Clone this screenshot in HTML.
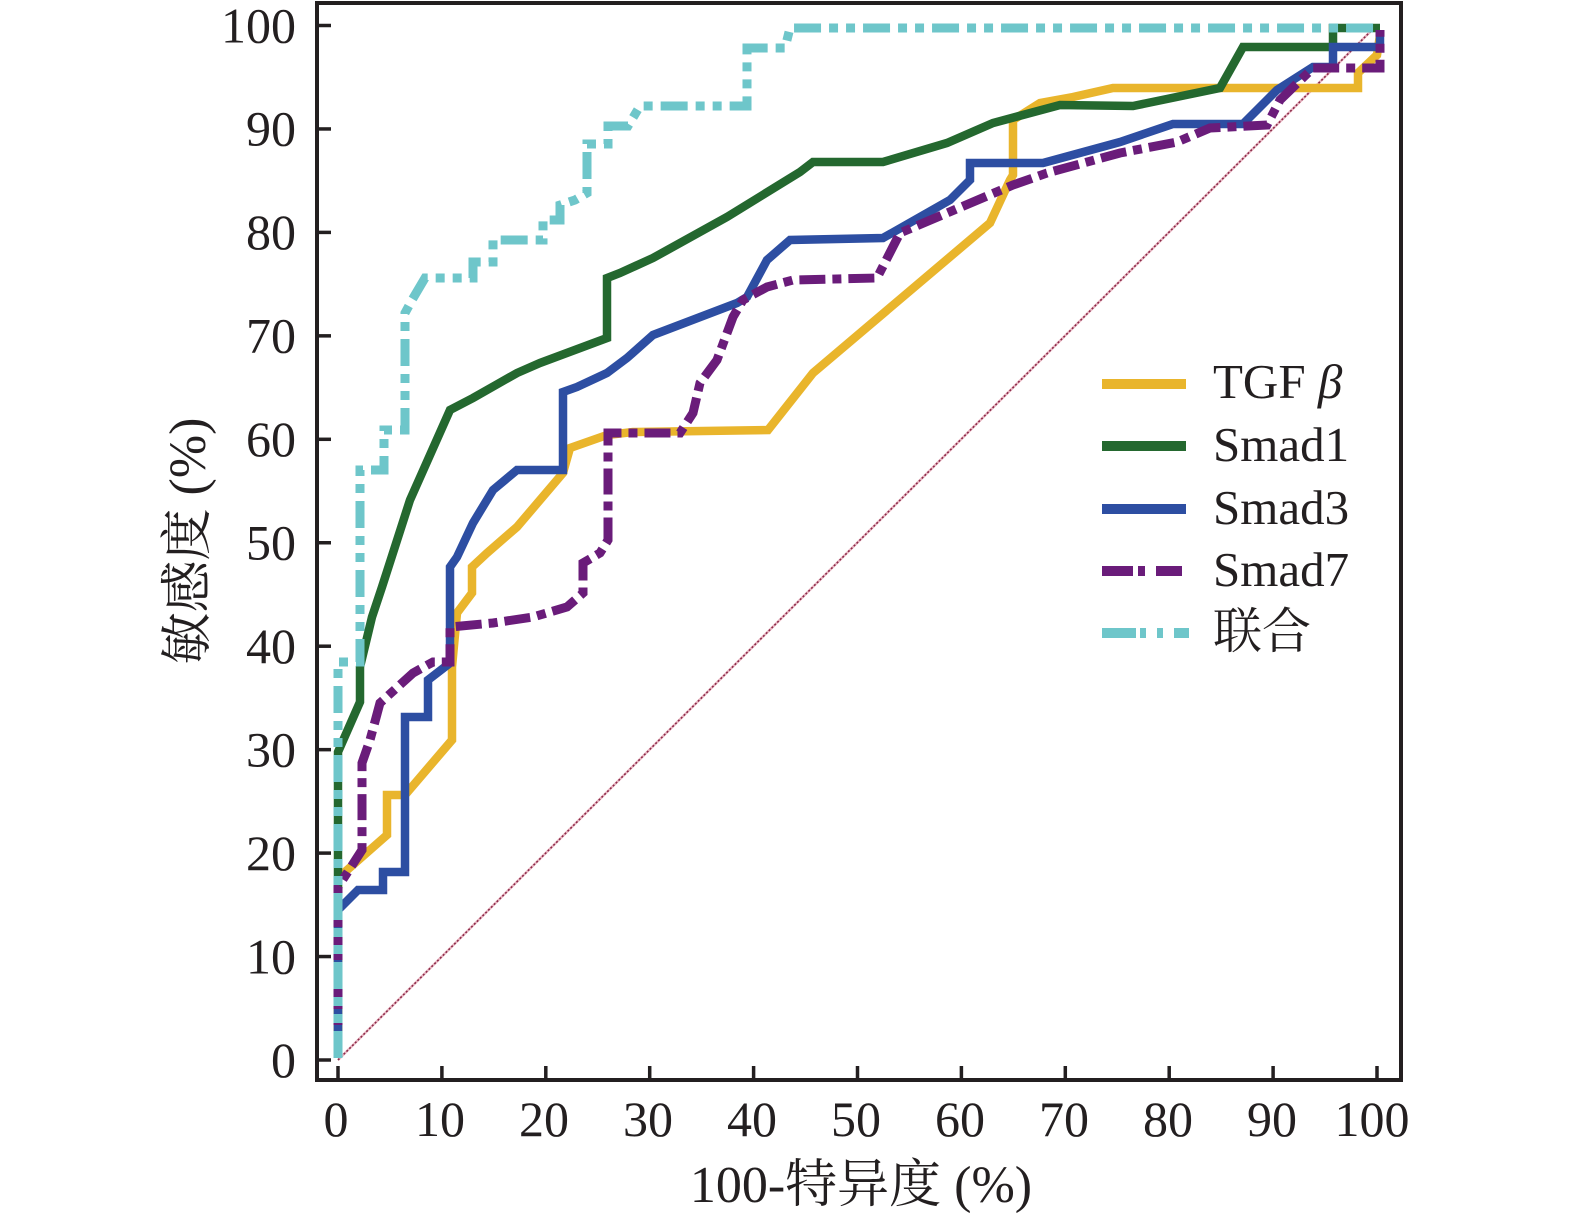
<!DOCTYPE html>
<html>
<head>
<meta charset="utf-8">
<style>
  html,body{margin:0;padding:0;background:#fff;}
  svg{display:block;}
  text{font-family:"Liberation Serif","Noto Serif CJK SC","Noto Sans CJK SC",serif;fill:#231f20;}
</style>
</head>
<body>
<svg width="1575" height="1218" viewBox="0 0 1575 1218" xmlns="http://www.w3.org/2000/svg">
  <rect x="0" y="0" width="1575" height="1218" fill="#fff"/>

  <!-- diagonal reference -->
  <line x1="338" y1="1060" x2="1377" y2="25" stroke="#eab8c4" stroke-width="2.5"/>
  <line x1="338" y1="1060" x2="1377" y2="25" stroke="#8a2a48" stroke-width="1.6" stroke-dasharray="2 2"/>

  <g fill="none" stroke-linejoin="miter" stroke-linecap="butt">
    <!-- TGF beta -->
    <polyline stroke="#E9B52C" stroke-width="8.5" points="338,1058 338,878 387,835 387,795 405,795 452,740 452,667 457,613 472,593 472,567 487,553 517,527 563,473 570,448 607,435 633,432 768,430 813,373 990,223 1010,180 1013,175 1013,120 1040,103 1073,97 1113,88 1358,88 1358,73 1377,55 1380,35"/>
    <!-- Smad1 -->
    <polyline stroke="#24682F" stroke-width="8.5" points="338,1058 338,752 360,702 360,667 372,617 382,587 410,500 450,410 473,398 517,373 540,363 607,338 607,278 620,273 653,258 727,217 800,172 813,162 883,162 947,143 993,123 1060,105 1133,106 1220,88 1243,47 1333,47 1333,28 1380,28"/>
    <!-- Smad3 -->
    <polyline stroke="#2D4EA2" stroke-width="8.5" points="338,1058 338,910 358,890 383,890 383,872 405,872 405,717 428,717 428,680 450,663 450,567 457,557 473,523 493,490 517,470 563,470 563,392 577,387 607,373 627,358 653,335 737,303 747,297 767,260 790,240 883,238 950,200 970,180 970,163 1043,163 1120,142 1173,124 1243,124 1277,90 1313,67 1333,67 1333,47 1380,47 1380,30"/>
    <!-- Smad7 -->
    <polyline stroke="#6A1C7A" stroke-width="9" stroke-dasharray="26 7 9 7" points="338,1058 338,887 362,850 362,763 370,740 380,703 413,673 433,662 450,662 450,627 493,623 533,617 567,607 583,593 583,563 600,553 608,540 608,433 680,433 693,413 700,383 717,360 733,317 743,300 767,287 793,280 877,278 900,233 947,213 1013,185 1047,173 1120,153 1177,142 1210,128 1267,125 1280,100 1313,68 1380,68 1380,30"/>
    <!-- combined -->
    <polyline stroke="#6EC6CA" stroke-width="9" stroke-dasharray="27 8 9 8 9 8" points="338,1058 338,662 360,662 360,470 384,470 384,430 405,430 405,313 412,300 425,278 473,278 473,262 493,262 493,240 543,240 543,220 560,220 560,205 575,200 587,193 587,144 608,144 608,126 628,126 640,106 747,106 747,48 785,48 790,28 1380,28"/>
  </g>

  <!-- frame -->
  <rect x="317" y="3" width="1084" height="1077" fill="none" stroke="#231f20" stroke-width="4"/>

  <!-- y ticks -->
  <g stroke="#231f20" stroke-width="3.5">
    <line x1="317" y1="1060" x2="331" y2="1060"/>
    <line x1="317" y1="956.55" x2="331" y2="956.55"/>
    <line x1="317" y1="853.1" x2="331" y2="853.1"/>
    <line x1="317" y1="749.65" x2="331" y2="749.65"/>
    <line x1="317" y1="646.2" x2="331" y2="646.2"/>
    <line x1="317" y1="542.75" x2="331" y2="542.75"/>
    <line x1="317" y1="439.3" x2="331" y2="439.3"/>
    <line x1="317" y1="335.85" x2="331" y2="335.85"/>
    <line x1="317" y1="232.4" x2="331" y2="232.4"/>
    <line x1="317" y1="128.95" x2="331" y2="128.95"/>
    <line x1="317" y1="25.5" x2="331" y2="25.5"/>
  </g>
  <!-- x ticks -->
  <g stroke="#231f20" stroke-width="3.5">
    <line x1="338" y1="1080" x2="338" y2="1066"/>
    <line x1="441.9" y1="1080" x2="441.9" y2="1066"/>
    <line x1="545.8" y1="1080" x2="545.8" y2="1066"/>
    <line x1="649.7" y1="1080" x2="649.7" y2="1066"/>
    <line x1="753.6" y1="1080" x2="753.6" y2="1066"/>
    <line x1="857.5" y1="1080" x2="857.5" y2="1066"/>
    <line x1="961.4" y1="1080" x2="961.4" y2="1066"/>
    <line x1="1065.3" y1="1080" x2="1065.3" y2="1066"/>
    <line x1="1169.2" y1="1080" x2="1169.2" y2="1066"/>
    <line x1="1273.1" y1="1080" x2="1273.1" y2="1066"/>
    <line x1="1377" y1="1080" x2="1377" y2="1066"/>
  </g>

  <!-- y tick labels -->
  <g font-size="50" text-anchor="end">
    <text x="296" y="1077">0</text>
    <text x="296" y="973.5">10</text>
    <text x="296" y="870">20</text>
    <text x="296" y="766.5">30</text>
    <text x="296" y="663">40</text>
    <text x="296" y="559.5">50</text>
    <text x="296" y="456">60</text>
    <text x="296" y="352.5">70</text>
    <text x="296" y="249">80</text>
    <text x="296" y="145.5">90</text>
    <text x="296" y="42.5">100</text>
  </g>

  <!-- x tick labels -->
  <g font-size="50" text-anchor="middle">
    <text x="336" y="1136">0</text>
    <text x="440" y="1136">10</text>
    <text x="544" y="1136">20</text>
    <text x="648" y="1136">30</text>
    <text x="752" y="1136">40</text>
    <text x="856" y="1136">50</text>
    <text x="960" y="1136">60</text>
    <text x="1064" y="1136">70</text>
    <text x="1168" y="1136">80</text>
    <text x="1272" y="1136">90</text>
    <text x="1372" y="1136">100</text>
  </g>

  <!-- axis titles -->
  <text x="861" y="1202" font-size="52" text-anchor="middle">100-特异度 (%)</text>
  <text transform="translate(205,541) rotate(-90)" x="0" y="0" font-size="52" text-anchor="middle">敏感度 (%)</text>

  <!-- legend -->
  <g fill="none" stroke-linecap="butt">
    <line x1="1102" y1="384" x2="1186" y2="384" stroke="#E9B52C" stroke-width="10"/>
    <line x1="1102" y1="446" x2="1186" y2="446" stroke="#24682F" stroke-width="10"/>
    <line x1="1102" y1="509" x2="1186" y2="509" stroke="#2D4EA2" stroke-width="10"/>
    <line x1="1102" y1="571" x2="1182" y2="571" stroke="#6A1C7A" stroke-width="10" stroke-dasharray="31 5 7 11 26 0"/>
    <line x1="1102" y1="633" x2="1189" y2="633" stroke="#6EC6CA" stroke-width="10" stroke-dasharray="34 4 6 11 6 11 15 0"/>
  </g>
  <g font-size="49">
    <text x="1213" y="398">TGF <tspan font-style="italic">β</tspan></text>
    <text x="1213" y="461">Smad1</text>
    <text x="1213" y="524">Smad3</text>
    <text x="1213" y="586">Smad7</text>
    <text x="1213" y="648">联合</text>
  </g>
</svg>
</body>
</html>
